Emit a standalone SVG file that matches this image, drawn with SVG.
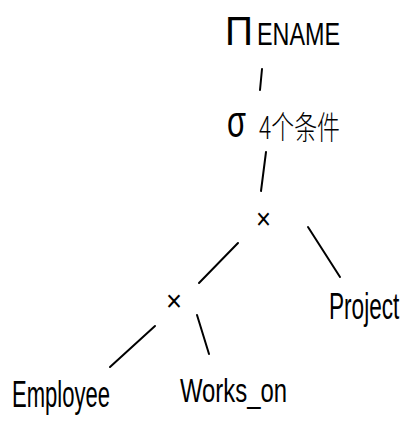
<svg xmlns="http://www.w3.org/2000/svg" width="409" height="429" viewBox="0 0 409 429">
<style>
text{fill:#000;font-family:"Liberation Sans","Noto Sans CJK SC",sans-serif;}
.lbl{font-size:32px;}
.cj{font-family:"Noto Sans CJK SC","Liberation Sans",sans-serif;font-size:32px;font-weight:300;}
.op{font-size:30px;}
#edges line{stroke:#000;stroke-width:2;stroke-linecap:round;fill:none;}
</style>
<rect width="409" height="429" fill="#fff"/>
<g id="edges">
<line x1="262" y1="69" x2="260" y2="90"/>
<line x1="266" y1="152" x2="261" y2="191"/>
<line x1="238" y1="243" x2="199" y2="283"/>
<line x1="308" y1="227" x2="340" y2="277"/>
<line x1="155" y1="326" x2="110" y2="367"/>
<line x1="197" y1="315" x2="209" y2="354"/>
</g>
<g id="project-ename">
<text x="225" y="45" style="font-size:40px" textLength="28" lengthAdjust="spacingAndGlyphs">Π</text>
<text x="257" y="45" class="lbl" style="font-size:31px" textLength="83" lengthAdjust="spacingAndGlyphs">ENAME</text>
</g>
<g id="select">
<text x="227" y="137" style="font-size:44px" textLength="19" lengthAdjust="spacingAndGlyphs">σ</text>
<text x="259" y="139" class="cj" textLength="81" lengthAdjust="spacingAndGlyphs">4个条件</text>
</g>
<g id="cross1">
<text x="256" y="229" class="op" textLength="15" lengthAdjust="spacingAndGlyphs">×</text>
</g>
<g id="cross2">
<text x="166" y="311" class="op" textLength="16" lengthAdjust="spacingAndGlyphs">×</text>
</g>
<g id="project">
<text transform="translate(329,319) scale(0.78,1.3)" x="0" y="0" style="font-size:29px">Project</text>
</g>
<g id="employee">
<text x="12" y="407" class="lbl" style="font-size:36px" textLength="98" lengthAdjust="spacingAndGlyphs">Employee</text>
</g>
<g id="works-on">
<text x="180" y="402" class="lbl" style="font-size:33px" textLength="107" lengthAdjust="spacingAndGlyphs">Works_on</text>
</g>
</svg>
